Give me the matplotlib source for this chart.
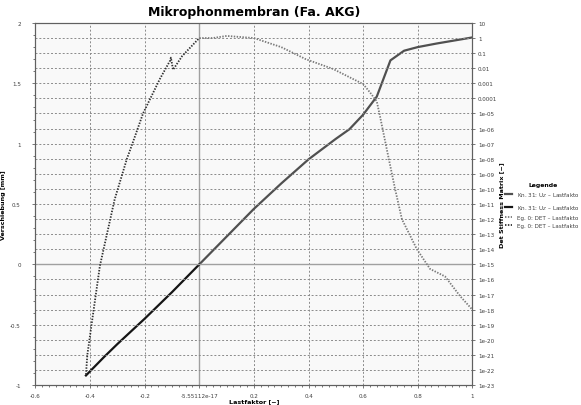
import numpy as np
import matplotlib
matplotlib.use("Agg")
import matplotlib.pyplot as plt
from matplotlib.ticker import FixedLocator, MultipleLocator

# Verschiebung U_z (left axis), two load branches
lf_pos = [0.0, 0.1, 0.2, 0.3, 0.4, 0.5, 0.55, 0.6, 0.65, 0.7, 0.75, 0.8, 0.87, 1.0]
uz_pos = [0.0, 0.23, 0.46, 0.67, 0.87, 1.04, 1.12, 1.24, 1.39, 1.69, 1.77, 1.80, 1.83, 1.88]
lf_neg = [-0.415, -0.35, -0.3, -0.2, -0.1, 0.0]
uz_neg = [-0.92, -0.77, -0.66, -0.45, -0.23, 0.0]

# Det Stiffness Matrix (right axis, log10 values)
lf_det_neg = [-0.415, -0.41, -0.393, -0.364, -0.31, -0.265, -0.243, -0.206, -0.144,
              -0.107, -0.104, -0.096, -0.063, 0.0]
det_neg = [-22.3, -21.0, -18.8, -15.1, -10.7, -8.0, -6.9, -5.0, -2.7,
           -1.5, -1.3, -2.1, -1.2, 0.0]
lf_det_pos = [0.0, 0.05, 0.1, 0.2, 0.3, 0.39, 0.49, 0.6, 0.625, 0.65, 0.662,
              0.687, 0.717, 0.742, 0.797, 0.845, 0.9, 0.955, 1.0]
det_pos = [0.0, 0.0, 0.14, 0.0, -0.6, -1.4, -2.05, -3.05, -3.6, -4.2, -5.2,
           -7.4, -10.0, -12.0, -14.0, -15.3, -15.8, -17.1, -18.0]

x_ticks = [-0.6, -0.4, -0.2, 0.0, 0.2, 0.4, 0.6, 0.8, 1.0]
x_labels = ["-0.6", "-0.4", "-0.2", "-5.55112e-17", "0.2", "0.4", "0.6", "0.8", "1"]
y_ticks = [-1, -0.5, 0, 0.5, 1, 1.5, 2]
y_labels = ["-1", "-0.5", "0", "0.5", "1", "1.5", "2"]
det_exp = list(range(-23, 2))
det_labels = ["1e-%02d" % -e if e <= -5 else ("%g" % 10.0 ** e) for e in det_exp]

grid_c = "#8a8a8a"
spine_c = "#606060"
tick_fs = 4.1

fig = plt.figure(figsize=(5.81, 4.06), dpi=100)
ax = fig.add_axes([0.061, 0.049, 0.752, 0.892])
ax.set_facecolor("#f9f9f9")
ax.set_xlim(-0.6, 1.0)
ax.set_ylim(-1, 2)

ax2 = ax.twinx()
ax2.set_ylim(-23, 1)

# grid: horizontal lines follow the log decades, vertical the x ticks
for e in det_exp[1:-1]:
    if e == -15:
        ax2.axhline(e, color="#a0a0a0", lw=1.0, zorder=0)
    else:
        ax2.axhline(e, color=grid_c, lw=0.7, ls=(0, (2, 2)), zorder=0)
for xv in x_ticks[1:-1]:
    if xv == 0.0:
        ax.axvline(xv, color="#a0a0a0", lw=1.0, zorder=0)
    else:
        ax.axvline(xv, color=grid_c, lw=0.7, ls=(0, (2, 2)), zorder=0)

l1, = ax.plot(lf_pos, uz_pos, color="#505050", lw=1.6, label="Kn. 31: U$_Z$ – Lastfakto")
l2, = ax.plot(lf_neg, uz_neg, color="#151515", lw=1.6, label="Kn. 31: U$_Z$ – Lastfakto")
l3, = ax2.plot(lf_det_pos, det_pos, color="#7a7a7a", lw=1.3, ls=(0, (0.8, 0.8)), label="Eg. 0: DET – Lastfakto")
l4, = ax2.plot(lf_det_neg, det_neg, color="#303030", lw=1.3, ls=(0, (0.8, 0.8)), label="Eg. 0: DET – Lastfakto")

ax.xaxis.set_major_locator(FixedLocator(x_ticks))
ax.set_xticklabels(x_labels)
ax.xaxis.set_minor_locator(MultipleLocator(0.025))
ax.yaxis.set_major_locator(FixedLocator(y_ticks))
ax.set_yticklabels(y_labels)
ax.yaxis.set_minor_locator(MultipleLocator(0.1))
ax2.yaxis.set_major_locator(FixedLocator(det_exp))
ax2.set_yticklabels(det_labels)

for a in (ax, ax2):
    for s in a.spines.values():
        s.set_color(spine_c)
    a.tick_params(which="both", colors=spine_c, labelcolor="#404040", labelsize=tick_fs,
                  length=2.5, width=0.6, pad=1.5)
    a.tick_params(which="minor", length=1.5)
ax.tick_params(axis="y", pad=8)
ax.tick_params(axis="x", pad=3)

ax.set_title("Mikrophonmembran (Fa. AKG)", fontsize=9, fontweight="bold", pad=6)
ax.set_xlabel("Lastfaktor [−]", fontsize=4.6, fontweight="bold", labelpad=0)
ax.set_ylabel("Verschiebung [mm]", fontsize=4.6, fontweight="bold", labelpad=3)
ax2.set_ylabel("Det Stiffness Matrix [−]", fontsize=4.6, fontweight="bold", labelpad=1)

leg = fig.legend(handles=[l1, l2, l3, l4], loc="upper left", bbox_to_anchor=(0.866, 0.555),
                 title="Legende", fontsize=4.1, frameon=False, handlelength=1.2,
                 labelspacing=0.6, handletextpad=0.9, borderaxespad=0)
leg.get_title().set_fontsize(4.4)
leg.get_title().set_fontweight("bold")
for t in leg.get_texts():
    t.set_color("#404040")

fig.savefig("out.png", dpi=100)
